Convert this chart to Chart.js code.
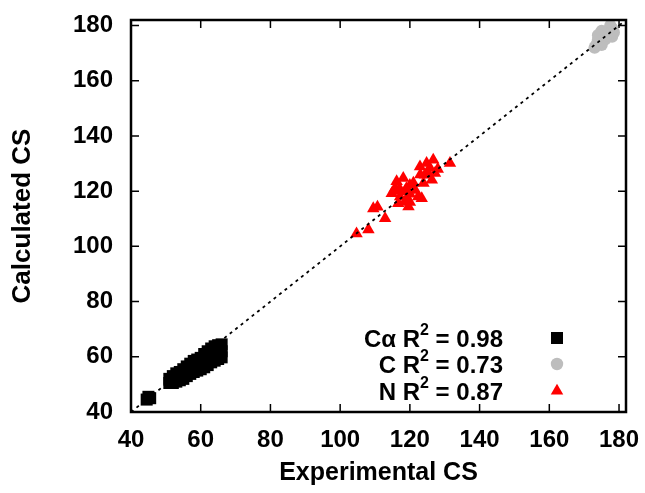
<!DOCTYPE html>
<html>
<head>
<meta charset="utf-8">
<script src="https://cdn.jsdelivr.net/npm/chart.js@4.4.0/dist/chart.umd.min.js"></script>
<style>
    html, body { margin: 0; padding: 0; background: #fff; }
    #wrap { width: 645px; height: 493px; position: relative; }
</style>
</head>
<body>
<div id="wrap"><canvas id="cs_chart"></canvas></div>
<script>
// C-alpha shifts (experimental / calculated)
const caExp  = [44.5, 45, 45.5,
    51, 51, 52, 52, 52, 53, 53, 53, 54, 54, 54, 55, 55, 55, 56, 56, 56,
    57, 57, 57, 58, 58, 58, 59, 59, 59, 60, 60, 60, 61, 61, 61, 62, 62, 62,
    63, 63, 63, 64, 64, 64, 65, 65, 65, 66, 66, 66];
const caCalc = [44.5, 45.5, 45,
    50.5, 52, 50.5, 51.5, 53, 51, 52.5, 54, 51.5, 53, 54.5, 52, 53.5, 55.5, 53, 54.5, 56.5,
    53.8, 55.5, 57.5, 54.5, 56.5, 58.5, 55, 57, 59, 55.5, 57.5, 59.6, 56.2, 58.5, 61, 57, 59.5, 62,
    58, 60.5, 63, 58.6, 61.5, 63.8, 59.2, 62, 64.2, 59.8, 62, 64.5];

// carbonyl C shifts
const cExp  = [173, 174, 175, 176, 177, 178, 174, 176, 178, 175, 177.5, 173.5, 176.5, 175, 174, 177, 178.5];
const cCalc = [172, 174, 176, 175, 178, 179, 175, 177, 176, 173, 180, 173, 176.5, 178, 176.5, 177, 177.5];

// backbone N shifts
const nExp  = [104.7, 108.1, 109.5, 110.7, 112.9,
    114.8, 115.7, 116.2, 116.7, 117.2, 118.1, 118.6, 118.6, 119.6, 120.0, 121.5, 122.4, 123.4,
    122.9, 123.9, 124.3, 124.8, 125.8, 126.3, 126.7, 127.2, 131.5,
    119, 120, 121, 117, 119, 125, 123, 128, 116, 120];
const nCalc = [104.6, 106.1, 113.7, 114.3, 110.1,
    119.2, 121.0, 123.5, 115.6, 118.0, 124.7, 119.9, 116.2, 114.4, 122.2, 120.4, 118.0, 117.4,
    128.9, 122.9, 125.9, 130.1, 128.3, 124.1, 131.3, 126.5, 130.1,
    121, 119, 123, 121, 117, 127, 126, 128, 120, 116];

// y = x reference line
const diagX = [40, 182];
const diagY = [40, 182];

const tickValues = [40, 60, 80, 100, 120, 140, 160, 180];
const axisMin = 40;
const axisMax = 182;

const seriesNames = ['C\u03b1', 'C', 'N'];
const r2Values = ['0.98', '0.73', '0.87'];
const seriesColors = ['#000000', '#bdbdbd', '#ff0000'];
const seriesStyles = ['rect', 'circle', 'triangle'];
const seriesRadius = [8.5, 6.2, 7.2];

const FONT = '"Liberation Sans", Arial, Helvetica, sans-serif';

function toPoints(xs, ys) {
    return xs.map((x, i) => ({x: x, y: ys[i]}));
}

// box around the plot with inward ticks on every side
const frameTicks = {
    id: 'frameTicks',
    afterDatasetsDraw(chart) {
        const {ctx, chartArea: a, scales: {x, y}} = chart;
        ctx.save();
        ctx.strokeStyle = '#000';
        ctx.lineWidth = 1.5;
        ctx.beginPath();
        for (const v of tickValues) {
            const px = x.getPixelForValue(v);
            ctx.moveTo(px, a.bottom);
            ctx.lineTo(px, a.bottom - 8);
            ctx.moveTo(px, a.top);
            ctx.lineTo(px, a.top + 8);
            const py = y.getPixelForValue(v);
            ctx.moveTo(a.left, py);
            ctx.lineTo(a.left + 8, py);
            ctx.moveTo(a.right, py);
            ctx.lineTo(a.right - 8, py);
        }
        ctx.stroke();
        ctx.lineWidth = 2.5;
        ctx.strokeRect(a.left, a.top, a.right - a.left, a.bottom - a.top);
        ctx.restore();
    }
};

// key with R^2 text, right aligned, marker to the right
const r2Key = {
    id: 'r2Key',
    afterDraw(chart) {
        const ctx = chart.ctx;
        const textRight = 503;
        const markX = 557;
        const baseY = [347, 373, 400];
        ctx.save();
        ctx.fillStyle = '#000';
        ctx.textAlign = 'right';
        ctx.textBaseline = 'alphabetic';
        for (let i = 0; i < seriesNames.length; i++) {
            let xr = textRight;
            ctx.font = 'bold 24px ' + FONT;
            const tail = ' = ' + r2Values[i];
            ctx.fillText(tail, xr, baseY[i]);
            xr -= ctx.measureText(tail).width;
            ctx.font = 'bold 16px ' + FONT;
            ctx.fillText('2', xr, baseY[i] - 12);
            xr -= ctx.measureText('2').width;
            ctx.font = 'bold 24px ' + FONT;
            ctx.fillText(seriesNames[i] + ' R', xr, baseY[i]);

            ctx.fillStyle = seriesColors[i];
            Chart.helpers.drawPoint(ctx, {
                pointStyle: seriesStyles[i],
                radius: seriesRadius[i],
                rotation: 0,
                borderWidth: 0
            }, markX, baseY[i] - 9);
            ctx.fillStyle = '#000';
        }
        ctx.restore();
    }
};

const tickFont = {family: FONT, size: 24, weight: 'bold'};

const ctx = document.getElementById('cs_chart');
const chart = new Chart(ctx, {
    type: 'scatter',
    data: {
        datasets: [
            {
                data: toPoints(diagX, diagY),
                showLine: true,
                borderColor: '#000',
                borderWidth: 1.8,
                borderDash: [3, 4],
                pointRadius: 0,
                fill: false,
                order: -1
            },
            ...seriesNames.map((name, i) => ({
                label: name,
                data: toPoints([caExp, cExp, nExp][i], [caCalc, cCalc, nCalc][i]),
                pointStyle: seriesStyles[i],
                pointRadius: seriesRadius[i],
                pointHoverRadius: seriesRadius[i],
                backgroundColor: seriesColors[i],
                borderColor: seriesColors[i],
                borderWidth: 0
            }))
        ]
    },
    options: {
        responsive: true,
        maintainAspectRatio: false,
        animation: false,
        layout: {padding: {top: 20, right: 19, left: 0, bottom: 0}},
        plugins: {
            legend: {display: false},
            tooltip: {enabled: false}
        },
        scales: {
            x: {
                type: 'linear',
                min: axisMin,
                max: axisMax,
                afterBuildTicks: s => { s.ticks = tickValues.map(v => ({value: v})); },
                afterFit: s => {
                    s.height = 81;
                    s.paddingLeft = 0;
                    s.paddingRight = 0;
                },
                grid: {display: false, drawTicks: false},
                border: {display: false},
                ticks: {color: '#000', font: tickFont, padding: 14, maxRotation: 0},
                title: {
                    display: true,
                    text: 'Experimental CS',
                    color: '#000',
                    font: {family: FONT, size: 25, weight: 'bold'},
                    padding: {top: 0, bottom: 5}
                }
            },
            y: {
                type: 'linear',
                min: axisMin,
                max: axisMax,
                afterBuildTicks: s => { s.ticks = tickValues.map(v => ({value: v})); },
                afterFit: s => {
                    s.width = 131;
                    s.paddingTop = 0;
                    s.paddingBottom = 0;
                },
                grid: {display: false, drawTicks: false},
                border: {display: false},
                ticks: {color: '#000', font: tickFont, padding: 18},
                title: {
                    display: true,
                    text: 'Calculated CS',
                    color: '#000',
                    font: {family: FONT, size: 26, weight: 'bold'},
                    padding: {top: 7, bottom: 0}
                }
            }
        }
    },
    plugins: [frameTicks, r2Key]
});
</script>
</body>
</html>
